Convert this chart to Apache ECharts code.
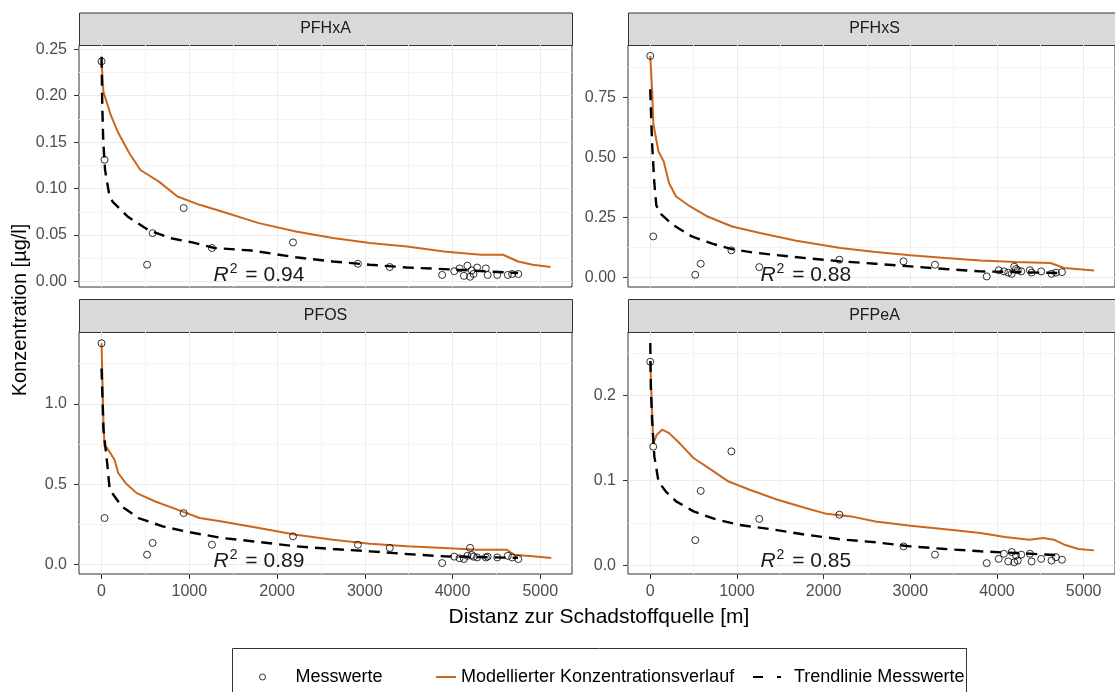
<!DOCTYPE html>
<html>
<head>
<meta charset="utf-8">
<script src="https://cdn.jsdelivr.net/npm/echarts@6/dist/echarts.min.js"></script>
<style>
  html, body { margin: 0; padding: 0; background: #fff; }
  #chart { width: 1115px; height: 692px; }
</style>
</head>
<body>
<div id="chart"></div>
<script>
// Messwerte: gemeinsame Distanzen der Messstellen [m]
var distances = [0, 34, 519, 582, 936, 1258, 2182, 2922, 3285, 3882, 4020, 4080, 4130, 4170, 4200, 4220, 4240, 4280, 4380, 4400, 4510, 4630, 4680, 4750];

var measPFHxA = [0.237, 0.131, 0.018, 0.052, 0.079, 0.036, 0.042, 0.019, 0.0155, 0.007, 0.011, 0.014, 0.006, 0.017, 0.005, 0.012, 0.008, 0.015, 0.014, 0.007, 0.007, 0.007, 0.008, 0.008];
var measPFHxS = [0.924, 0.171, 0.011, 0.057, 0.113, 0.043, 0.074, 0.067, 0.053, 0.004, 0.03, 0.025, 0.02, 0.015, 0.045, 0.035, 0.03, 0.025, 0.03, 0.02, 0.025, 0.015, 0.02, 0.022];
var measPFOS = [1.377, 0.29, 0.062, 0.135, 0.321, 0.124, 0.176, 0.124, 0.104, 0.01, 0.05, 0.04, 0.035, 0.055, 0.105, 0.06, 0.05, 0.045, 0.045, 0.05, 0.045, 0.055, 0.045, 0.035];
var measPFPeA = [0.240, 0.140, 0.030, 0.088, 0.1345, 0.055, 0.060, 0.0227, 0.013, 0.003, 0.008, 0.014, 0.005, 0.016, 0.004, 0.012, 0.006, 0.013, 0.014, 0.005, 0.008, 0.006, 0.010, 0.007];

// Modellierter Konzentrationsverlauf [Distanz, Konzentration]
var modelPFHxA = [[0,0.237],[22,0.204],[106,0.179],[190,0.160],[317,0.138],[443,0.120],[654,0.1075],[865,0.0914],[1118,0.0825],[1371,0.0753],[1793,0.0628],[2215,0.0538],[2637,0.0467],[3059,0.0413],[3481,0.0376],[3903,0.0323],[4325,0.0287],[4576,0.0287],[4747,0.0215],[4915,0.018],[5118,0.0155]];
var modelPFHxS = [[0,0.924],[23,0.768],[35,0.643],[56,0.60],[95,0.525],[156,0.483],[217,0.393],[298,0.3375],[460,0.296],[661,0.254],[944,0.2125],[1267,0.185],[1670,0.154],[2195,0.1225],[2599,0.106],[3002,0.092],[3406,0.081],[3810,0.071],[4212,0.064],[4617,0.060],[4777,0.039],[5121,0.029]];
var modelPFOS = [[0,1.377],[22,0.88],[34,0.735],[64,0.725],[148,0.652],[190,0.57],[275,0.507],[401,0.445],[612,0.393],[865,0.342],[1118,0.29],[1372,0.269],[1793,0.228],[2215,0.186],[2637,0.155],[3059,0.13],[3481,0.114],[3903,0.104],[4280,0.093],[4621,0.093],[4703,0.062],[4915,0.052],[5126,0.042]];
var modelPFPeA = [[0,0.24],[23,0.176],[35,0.144],[75,0.154],[137,0.16],[217,0.156],[339,0.144],[499,0.1267],[701,0.113],[904,0.099],[1146,0.0894],[1469,0.0776],[1791,0.0678],[2033,0.061],[2316,0.058],[2599,0.052],[3002,0.047],[3406,0.043],[3810,0.0385],[4092,0.0337],[4374,0.0306],[4536,0.0326],[4656,0.0306],[4778,0.0247],[4939,0.0196],[5121,0.018]];

// Trendlinie Messwerte
var trendPFHxA = [[0,0.242],[8,0.19],[20,0.15],[40,0.12],[85,0.095],[125,0.086],[296,0.070],[528,0.0556],[781,0.0467],[1034,0.042],[1287,0.036],[1709,0.0333],[2215,0.026],[2637,0.0215],[3059,0.018],[3481,0.015],[3903,0.0133],[4747,0.009]];
var trendPFHxS = [[0,0.785],[12,0.65],[23,0.546],[47,0.393],[70,0.30],[120,0.265],[258,0.22],[479,0.171],[722,0.14],[944,0.118],[1186,0.104],[1668,0.085],[2195,0.067],[2599,0.057],[3002,0.046],[3406,0.035],[3810,0.025],[4212,0.0225],[4736,0.018]];
var trendPFOS = [[0,1.22],[22,0.838],[43,0.735],[64,0.632],[93,0.466],[232,0.362],[422,0.29],[697,0.238],[992,0.203],[1372,0.166],[1793,0.141],[2215,0.114],[2637,0.0975],[3059,0.083],[3481,0.066],[3903,0.052],[4747,0.042]];
var trendPFPeA = [[0,0.262],[7,0.207],[23,0.168],[47,0.1286],[95,0.099],[177,0.0875],[298,0.0757],[499,0.0639],[742,0.055],[1024,0.048],[1387,0.043],[1791,0.0365],[2195,0.031],[2599,0.0275],[3002,0.0227],[3406,0.0196],[3810,0.0169],[4212,0.0149],[4736,0.0122]];

var panelNames = ['PFHxA', 'PFHxS', 'PFOS', 'PFPeA'];
var r2Values = ['0.94', '0.88', '0.89', '0.85'];

// Achsenbeschriftung
var xTicks = [0, 1000, 2000, 3000, 4000, 5000];
var xMinor = [500, 1500, 2500, 3500, 4500];
var yTicksPFHxA = [0, 0.05, 0.10, 0.15, 0.20, 0.25];
var yMinorPFHxA = [0.025, 0.075, 0.125, 0.175, 0.225];
var yTicksPFHxS = [0, 0.25, 0.50, 0.75];
var yMinorPFHxS = [0.125, 0.375, 0.625, 0.875];
var yTicksPFOS = [0, 0.5, 1.0];
var yMinorPFOS = [0.25, 0.75, 1.25];
var yTicksPFPeA = [0, 0.1, 0.2];
var yMinorPFPeA = [0.05, 0.15, 0.25];

var font = 'Liberation Sans, Arial, sans-serif';
var orange = '#CD661D';

var panels = [
  { name: panelNames[0], meas: measPFHxA, model: modelPFHxA, trend: trendPFHxA, ticks: yTicksPFHxA, minor: yMinorPFHxA, digits: 2, min: -0.006, max: 0.2546, r2y: 0.007 },
  { name: panelNames[1], meas: measPFHxS, model: modelPFHxS, trend: trendPFHxS, ticks: yTicksPFHxS, minor: yMinorPFHxS, digits: 2, min: -0.040, max: 0.9696, r2y: 0.011 },
  { name: panelNames[2], meas: measPFOS, model: modelPFOS, trend: trendPFOS, ticks: yTicksPFOS, minor: yMinorPFOS, digits: 1, min: -0.058, max: 1.447, r2y: 0.02 },
  { name: panelNames[3], meas: measPFPeA, model: modelPFPeA, trend: trendPFPeA, ticks: yTicksPFPeA, minor: yMinorPFPeA, digits: 1, min: -0.0098, max: 0.275, r2y: 0.005 }
];

// Position der Panels
var gridPos = [[79, 45], [628, 45], [79, 332], [628, 332]];
var gridW = 493, gridH = 242;

var grids = [], xAxes = [], yAxes = [], series = [], graphics = [];

panels.forEach(function (p, i) {
  var bottomRow = i >= 2;
  grids.push({
    left: gridPos[i][0], top: gridPos[i][1], width: gridW, height: gridH,
    show: true, backgroundColor: '#fff', borderColor: '#333', borderWidth: 1
  });

  // Hauptachsen
  xAxes.push({
    gridIndex: i, type: 'value', min: -257, max: 5362, position: 'bottom',
    axisLine: { show: false, onZero: false },
    axisTick: { show: bottomRow, length: 5, customValues: xTicks, lineStyle: { color: '#333' } },
    axisLabel: {
      show: bottomRow, customValues: xTicks, color: '#4D4D4D', fontSize: 16, fontFamily: font, margin: 10,
      formatter: function (v) { return String(v); }
    },
    splitLine: { show: true, lineStyle: { color: '#EBEBEB', width: 1 } }
  });
  // Nebengitter
  xAxes.push({
    gridIndex: i, type: 'value', min: -257, max: 5362, position: 'bottom',
    axisLine: { show: false, onZero: false },
    axisTick: { show: false, customValues: xMinor },
    axisLabel: { show: false },
    splitLine: { show: true, lineStyle: { color: '#F4F4F4', width: 1 } }
  });
  yAxes.push({
    gridIndex: i, type: 'value', min: p.min, max: p.max, position: 'left',
    axisLine: { show: false, onZero: false },
    axisTick: { show: true, length: 5, customValues: p.ticks, lineStyle: { color: '#333' } },
    axisLabel: {
      customValues: p.ticks, color: '#4D4D4D', fontSize: 16, fontFamily: font, margin: 12,
      formatter: (function (d) { return function (v) { return v.toFixed(d); }; })(p.digits)
    },
    splitLine: { show: true, lineStyle: { color: '#EBEBEB', width: 1 } }
  });
  yAxes.push({
    gridIndex: i, type: 'value', min: p.min, max: p.max, position: 'left',
    axisLine: { show: false, onZero: false },
    axisTick: { show: false, customValues: p.minor },
    axisLabel: { show: false },
    splitLine: { show: true, lineStyle: { color: '#F4F4F4', width: 1 } }
  });

  series.push({
    name: 'Modellierter Konzentrationsverlauf', type: 'line',
    xAxisIndex: 2 * i, yAxisIndex: 2 * i,
    data: p.model, symbol: 'none', showSymbol: false,
    lineStyle: { color: orange, width: 2 }, itemStyle: { color: orange }, z: 3
  });
  series.push({
    name: 'Trendlinie Messwerte', type: 'line',
    xAxisIndex: 2 * i, yAxisIndex: 2 * i,
    data: p.trend, symbol: 'none', showSymbol: false,
    lineStyle: { color: '#000', width: 2.4, type: [11, 7] }, itemStyle: { color: '#000' }, z: 4,
    markPoint: {
      symbol: 'circle', symbolSize: 1, itemStyle: { color: 'rgba(0,0,0,0)' },
      data: [{ coord: [1794, p.r2y] }],
      label: {
        show: true, position: 'inside',
        formatter: '{r|R}{s|2}{n| = ' + r2Values[i] + '}',
        rich: {
          r: { fontFamily: font, fontSize: 21, fontStyle: 'italic', color: '#1A1A1A', lineHeight: 26, verticalAlign: 'middle' },
          s: { fontFamily: font, fontSize: 14, color: '#1A1A1A', lineHeight: 14, verticalAlign: 'top', padding: [0, 2, 0, 1] },
          n: { fontFamily: font, fontSize: 21, color: '#1A1A1A', lineHeight: 26, verticalAlign: 'middle' }
        }
      }
    }
  });
  series.push({
    name: 'Messwerte', type: 'scatter',
    xAxisIndex: 2 * i, yAxisIndex: 2 * i,
    data: distances.map(function (d, k) { return [d, p.meas[k]]; }),
    symbol: 'circle', symbolSize: 7,
    itemStyle: { color: 'rgba(0,0,0,0)', borderColor: '#000', borderWidth: 1 }, z: 5
  });

  // Streifen mit Panelnamen
  var stripTop = bottomRow ? 299 : 12.5;
  var stripH = gridPos[i][1] - stripTop;
  graphics.push({
    type: 'rect', left: gridPos[i][0], top: stripTop,
    shape: { width: gridW, height: stripH },
    style: { fill: '#D9D9D9', stroke: '#333', lineWidth: 1 }
  });
  graphics.push({
    type: 'text', x: gridPos[i][0] + gridW / 2, y: stripTop + stripH / 2,
    style: { text: p.name, fill: '#1A1A1A', font: '16px ' + font, align: 'center', verticalAlign: 'middle' }
  });
});

// Achsentitel
graphics.push({
  type: 'text', x: 599, y: 617,
  style: { text: 'Distanz zur Schadstoffquelle [m]', fill: '#000', font: '21px ' + font, align: 'center', verticalAlign: 'middle' }
});
graphics.push({
  type: 'text', x: 20, y: 310, rotation: Math.PI / 2,
  style: { text: 'Konzentration [µg/l]', fill: '#000', font: '20px ' + font, align: 'center', verticalAlign: 'middle' }
});
// Legendenrahmen
graphics.push({
  type: 'rect', left: 232, top: 648,
  shape: { width: 734, height: 60 },
  style: { fill: '#fff', stroke: '#333', lineWidth: 1 }, z: -1
});

var legendText = { color: '#000', fontSize: 18, fontFamily: font };

var option = {
  animation: false,
  backgroundColor: '#fff',
  grid: grids,
  xAxis: xAxes,
  yAxis: yAxes,
  legend: [
    { data: [{ name: 'Messwerte', icon: 'circle' }], left: 259, top: 668, padding: 0, itemWidth: 6, itemHeight: 6, selectedMode: false,
      itemStyle: { color: 'rgba(0,0,0,0)', borderColor: '#000', borderWidth: 1 },
      textStyle: Object.assign({ padding: [0, 0, 0, 25] }, legendText) },
    { data: [{ name: 'Modellierter Konzentrationsverlauf', icon: 'rect' }], left: 436, top: 668, padding: 0, itemWidth: 20, itemHeight: 2, selectedMode: false,
      textStyle: legendText },
    { data: [{ name: 'Trendlinie Messwerte', icon: 'path://M0,0 h10 v2 h-10z M24,0 h4 v2 h-4z' }], left: 753, top: 668, padding: 0, itemWidth: 28, itemHeight: 2, selectedMode: false,
      textStyle: Object.assign({ padding: [0, 0, 0, 8] }, legendText) }
  ],
  graphic: graphics,
  series: series
};

var myChart = echarts.init(document.getElementById('chart'));
myChart.setOption(option);
</script>
</body>
</html>
